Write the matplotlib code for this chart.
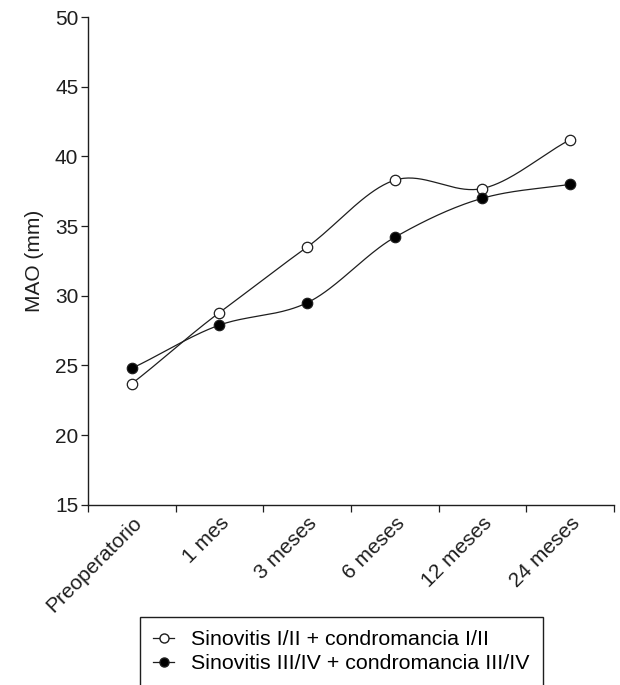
import numpy as np
import matplotlib
matplotlib.use("Agg")
import matplotlib.pyplot as plt
from matplotlib.lines import Line2D

categories = ["Preoperatorio", "1 mes", "3 meses", "6 meses", "12 meses", "24 meses"]
serie_1 = [23.7, 28.8, 33.5, 38.3, 37.7, 41.2]
serie_2 = [24.8, 27.9, 29.5, 34.2, 37.0, 38.0]
labels = ["Sinovitis I/II + condromancia I/II", "Sinovitis III/IV + condromancia III/IV"]
y_ticks = [15, 20, 25, 30, 35, 40, 45, 50]

plt.rcParams['font.family'] = ['Liberation Sans', 'DejaVu Sans']
INK = '#1e1e1e'


def cardinal(x, y, tension=0.95, n=40):
    x = np.asarray(x, float)
    y = np.asarray(y, float)
    px = np.concatenate([[2 * x[0] - x[1]], x, [2 * x[-1] - x[-2]]])
    py = np.concatenate([[2 * y[0] - y[1]], y, [2 * y[-1] - y[-2]]])
    t = np.linspace(0, 1, n)
    h00 = 2 * t**3 - 3 * t**2 + 1
    h10 = t**3 - 2 * t**2 + t
    h01 = -2 * t**3 + 3 * t**2
    h11 = t**3 - t**2
    xs, ys = [], []
    for i in range(1, len(px) - 2):
        m1 = tension * (py[i + 1] - py[i - 1]) / 2
        m2 = tension * (py[i + 2] - py[i]) / 2
        xs.append(px[i] + (px[i + 1] - px[i]) * t)
        ys.append(h00 * py[i] + h10 * m1 + h01 * py[i + 1] + h11 * m2)
    return np.concatenate(xs), np.concatenate(ys)


fig = plt.figure(figsize=(6.2, 6.85), dpi=100)
ax = fig.add_axes([0.142, 0.263, 0.848, 0.712])

x = np.arange(len(categories))
for vals, face in [(serie_1, 'white'), (serie_2, 'black')]:
    sx, sy = cardinal(x, vals)
    ax.plot(sx, sy, color=INK, lw=0.9, zorder=2)
    ax.plot(x, vals, 'o', ms=7.5, mfc=face, mec=INK, mew=0.9, zorder=3)

ax.set_xlim(-0.5, len(categories) - 0.5)
ax.set_ylim(15, 50)
ax.set_yticks(y_ticks)
ax.set_xticks(np.arange(len(categories) + 1) - 0.5)
ax.set_xticklabels([])
ax.set_xticks(x, minor=True)
ax.set_xticklabels(categories, minor=True, rotation=45, ha='right',
                   rotation_mode='anchor', fontsize=15, color=INK)
ax.tick_params(axis='x', which='minor', length=0, pad=6)
ax.tick_params(axis='x', which='major', length=5, width=0.9, color=INK)
ax.tick_params(axis='y', length=5, width=0.9, labelsize=15, colors=INK, pad=2)
for s in ['top', 'right']:
    ax.spines[s].set_visible(False)
for s in ['left', 'bottom']:
    ax.spines[s].set_linewidth(1.0)
    ax.spines[s].set_color(INK)
ax.set_ylabel("MAO (mm)", fontsize=15, color=INK, labelpad=8)

handles = [Line2D([], [], color=INK, lw=0.9, marker='o', ms=6.5, mfc='white', mec=INK),
           Line2D([], [], color=INK, lw=0.9, marker='o', ms=6.5, mfc='black', mec=INK)]
fig.legend(handles, labels, loc='upper left', bbox_to_anchor=(0.226, 0.099),
           bbox_transform=fig.transFigure, fontsize=15.4, frameon=True,
           fancybox=False, edgecolor=INK, handlelength=1.0, handletextpad=0.8,
           borderpad=0.6, labelspacing=0.25, framealpha=1, borderaxespad=0)

fig.savefig("out.png", dpi=100)
